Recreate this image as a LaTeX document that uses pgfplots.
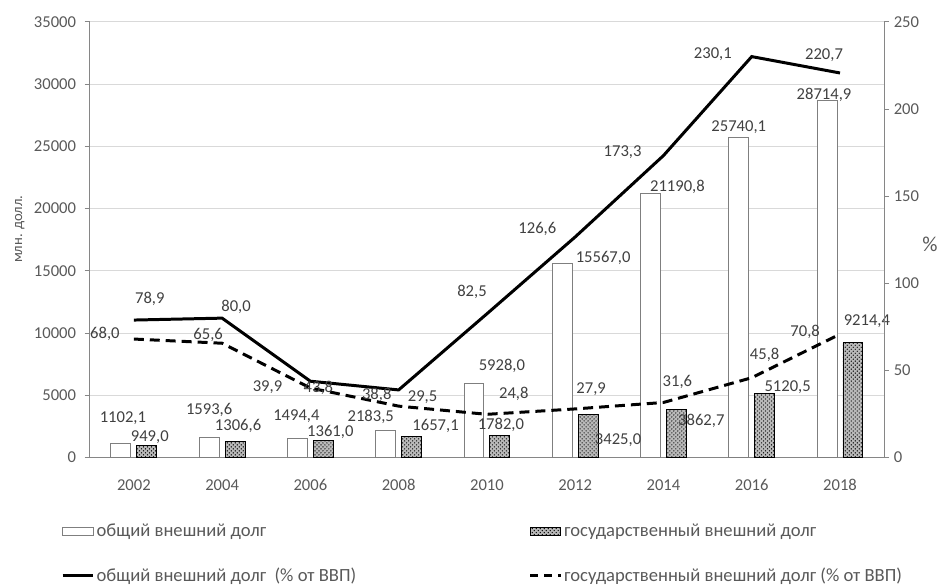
\documentclass[border=0pt]{standalone}
\usepackage{fontspec}
\setmainfont{Carlito}
\usepackage{pgfplots}
\pgfplotsset{compat=1.18}
\usetikzlibrary{patterns}
\definecolor{txt}{HTML}{595959}
\definecolor{lbl}{HTML}{404040}
\definecolor{gridc}{HTML}{D9D9D9}
\definecolor{axc}{HTML}{868686}
\definecolor{barline}{HTML}{7F7F7F}
\newcommand{\tickfont}{\fontsize{12.5}{15}\selectfont}
\newcommand{\lblfont}{\fontsize{12.5}{15}\selectfont}
\newcommand{\lbl}[5]{\node[font=\lblfont, text=lbl, inner sep=0pt, xshift=#3*0.75pt, yshift=#4*0.75pt] at (axis cs:#1,#2) {#5};}
\tikzset{hatchbar/.style={fill=gray!55, postaction={pattern=crosshatch dots, pattern color=black}, draw=black, line width=0.75pt}}
\begin{document}
\begin{tikzpicture}
\path (0pt,0pt) rectangle (706.5pt,438.75pt);
\begin{axis}[
  at={(67.5pt,94.5pt)}, anchor=south west, scale only axis,
  width=597.75pt, height=327.75pt,
  xmin=-0.5, xmax=8.5, ymin=0, ymax=35000,
  axis x line*=bottom, axis y line*=left,
  axis line style={axc, line width=0.75pt},
  xtick={0,...,8},
  xticklabels={2002,2004,2006,2008,2010,2012,2014,2016,2018},
  xtick style={draw=none},
  ytick={0,5000,...,35000},
  scaled y ticks=false,
  ytick style={axc, line width=0.75pt},
  tick align=outside, major tick length=3.75pt,
  ymajorgrids, grid style={gridc, line width=0.75pt},
  ticklabel style={font=\tickfont, text=txt},
  xticklabel style={anchor=base, yshift=-21.4pt},
  yticklabel style={xshift=-3pt},
  /pgf/number format/1000 sep={}, /pgf/number format/assume math mode=true,
  ylabel={млн. долл.},
  ylabel style={font=\fontsize{11}{13}\selectfont, text=txt, at={(axis description cs:-0.088,0.524)}, anchor=center},
  clip=false,
]
\addplot[ybar, bar width=15pt, bar shift=-9.75pt, fill=white, draw=barline, line width=0.75pt]
  coordinates {(0,1102.1) (1,1593.6) (2,1494.4) (3,2183.5) (4,5928.0) (5,15567.0) (6,21190.8) (7,25740.1) (8,28714.9)};
\addplot[ybar, bar width=15pt, bar shift=9.75pt, hatchbar]
  coordinates {(0,949.0) (1,1306.6) (2,1361.0) (3,1657.1) (4,1782.0) (5,3425.0) (6,3862.7) (7,5120.5) (8,9214.4)};
\lbl{0}{1102.1}{-11}{26}{1102,1}
\lbl{0}{949.0}{16}{9}{949,0}
\lbl{1}{1593.6}{-13}{28}{1593,6}
\lbl{1}{1306.6}{16}{15}{1306,6}
\lbl{2}{1494.4}{-14}{23}{1494,4}
\lbl{2}{1361.0}{20}{9}{1361,0}
\lbl{3}{2183.5}{-28}{14}{2183,5}
\lbl{3}{1657.1}{37}{11}{1657,1}
\lbl{4}{5928.0}{15}{18}{5928,0}
\lbl{4}{1782.0}{14}{10}{1782,0}
\lbl{5}{15567.0}{28}{6}{15567,0}
\lbl{5}{3425.0}{43}{-25}{3425,0}
\lbl{6}{21190.8}{14}{7}{21190,8}
\lbl{6}{3862.7}{38}{-11}{3862,7}
\lbl{7}{25740.1}{-13}{10}{25740,1}
\lbl{7}{5120.5}{36}{7}{5120,5}
\lbl{8}{28714.9}{-16}{5}{28714,9}
\lbl{8}{9214.4}{27}{22}{9214,4}
\end{axis}
\begin{axis}[
  at={(67.5pt,94.5pt)}, anchor=south west, scale only axis,
  width=597.75pt, height=327.75pt,
  xmin=-0.5, xmax=8.5, ymin=0, ymax=250,
  axis x line=none, axis y line*=right,
  axis line style={axc, line width=0.75pt},
  ytick={0,50,...,250},
  ytick style={axc, line width=0.75pt},
  tick align=outside, major tick length=3.75pt,
  ticklabel style={font=\tickfont, text=txt},
  /pgf/number format/assume math mode=true,
  clip=false,
  legend columns=2,
  legend style={at={(axis description cs:-0.0414,-0.1465)}, anchor=north west, draw=none, fill=none,
    font=\fontsize{14}{16}\selectfont, text=txt, row sep=22pt,
    nodes={inner sep=0pt, anchor=west},
    /tikz/every odd column/.append style={column sep=1.5pt}},
  legend cell align=left,
]
\addlegendimage{legend image code/.code={\draw[fill=white, draw=barline, line width=0.75pt] (0pt,-3pt) rectangle (23pt,3pt);}}
\addlegendentry{\makebox[325pt][l]{общий внешний долг}}
\addlegendimage{legend image code/.code={\draw[hatchbar] (0pt,-3pt) rectangle (23pt,3pt);}}
\addlegendentry{государственный внешний долг}
\addplot[black, line width=2.25pt, mark=none, legend image code/.code={\draw[black, line width=2.25pt] (0pt,0pt) -- (23pt,0pt);}]
  coordinates {(0,78.9) (1,80.0) (2,43.8) (3,38.8) (4,82.5) (5,126.6) (6,173.3) (7,230.1) (8,220.7)};
\addlegendentry{\makebox[325pt][l]{общий внешний долг~ (\% от ВВП)}}
\addplot[black, line width=2.25pt, mark=none, dash pattern=on 7.5pt off 4.5pt, legend image code/.code={\draw[black, line width=2.25pt, dash pattern=on 6pt off 4.5pt] (0pt,0pt) -- (23pt,0pt);}]
  coordinates {(0,68.0) (1,65.6) (2,39.9) (3,29.5) (4,24.8) (5,27.9) (6,31.6) (7,45.8) (8,70.8)};
\addlegendentry{государственный внешний долг (\% от ВВП)}
\lbl{0}{78.9}{16}{21}{78,9}
\lbl{1}{80.0}{14}{11}{80,0}
\lbl{2}{43.8}{8}{-7}{43,8}
\lbl{3}{38.8}{-22}{-5}{38,8}
\lbl{4}{82.5}{-15}{22}{82,5}
\lbl{5}{126.6}{-38}{8}{126,6}
\lbl{6}{173.3}{-41}{3}{173,3}
\lbl{7}{230.1}{-39}{2}{230,1}
\lbl{8}{220.7}{-16}{18}{220,7}
\lbl{0}{68.0}{-29}{5}{68,0}
\lbl{1}{65.6}{-14}{8}{65,6}
\lbl{2}{39.9}{-43}{1}{39,9}
\lbl{3}{29.5}{24}{9}{29,5}
\lbl{4}{24.8}{27}{20}{24,8}
\lbl{5}{27.9}{16}{20}{27,9}
\lbl{6}{31.6}{14}{21}{31,6}
\lbl{7}{45.8}{13}{23}{45,8}
\lbl{8}{70.8}{-35}{2}{70,8}
\node[font=\fontsize{16}{18}\selectfont, text=txt] at (axis description cs:1.0577,0.49) {\%};
\end{axis}
\end{tikzpicture}
\end{document}
